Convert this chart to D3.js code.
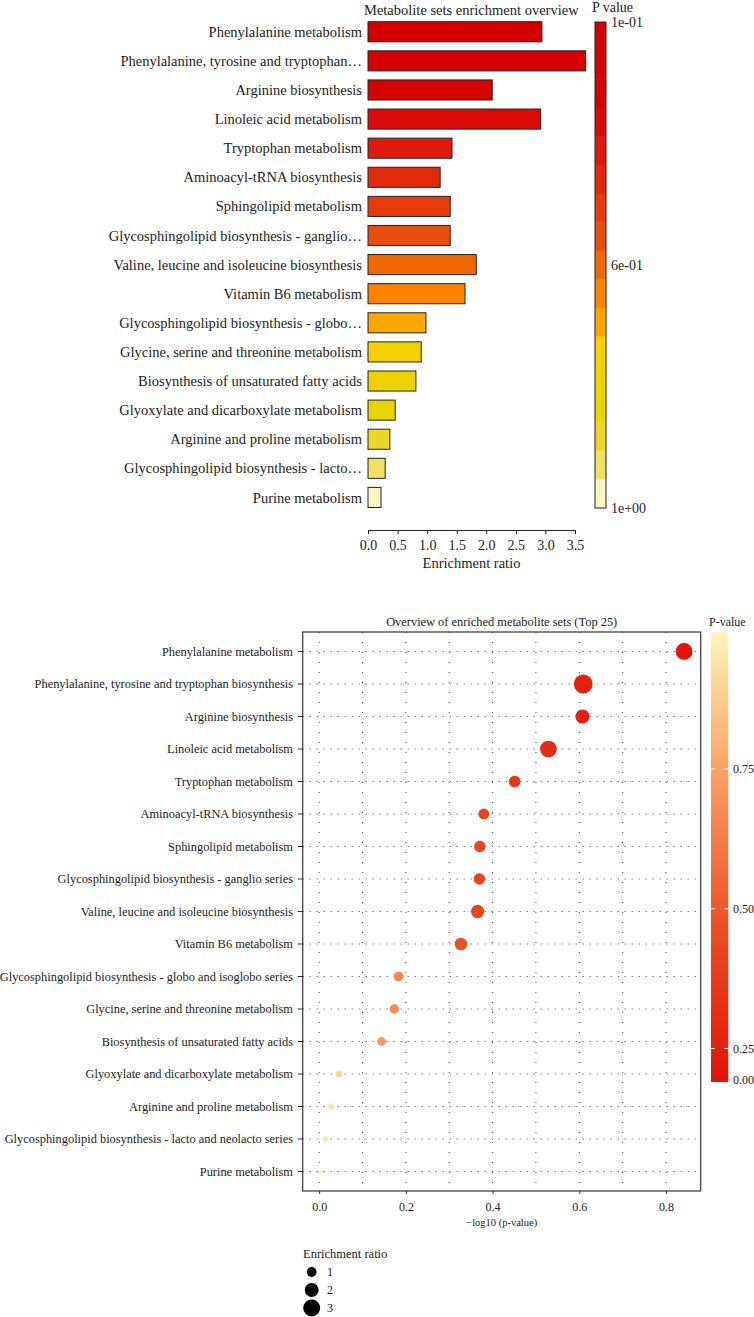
<!DOCTYPE html>
<html>
<head>
<meta charset="utf-8">
<style>
  body { margin: 0; background: #fff; }
  svg text { font-family: "Liberation Serif", "Times New Roman", serif; fill: #222; }
</style>
<script src="https://cdn.jsdelivr.net/npm/d3@7"></script>
</head>
<body>
<svg id="chart" width="754" height="1317"></svg>
<script>
// metabolite sets, top to bottom
const setNames = [
  "Phenylalanine metabolism",
  "Phenylalanine, tyrosine and tryptophan biosynthesis",
  "Arginine biosynthesis",
  "Linoleic acid metabolism",
  "Tryptophan metabolism",
  "Aminoacyl-tRNA biosynthesis",
  "Sphingolipid metabolism",
  "Glycosphingolipid biosynthesis - ganglio series",
  "Valine, leucine and isoleucine biosynthesis",
  "Vitamin B6 metabolism",
  "Glycosphingolipid biosynthesis - globo and isoglobo series",
  "Glycine, serine and threonine metabolism",
  "Biosynthesis of unsaturated fatty acids",
  "Glyoxylate and dicarboxylate metabolism",
  "Arginine and proline metabolism",
  "Glycosphingolipid biosynthesis - lacto and neolacto series",
  "Purine metabolism"
];
const shortNames = [
  "Phenylalanine metabolism",
  "Phenylalanine, tyrosine and tryptophan\u2026",
  "Arginine biosynthesis",
  "Linoleic acid metabolism",
  "Tryptophan metabolism",
  "Aminoacyl-tRNA biosynthesis",
  "Sphingolipid metabolism",
  "Glycosphingolipid biosynthesis - ganglio\u2026",
  "Valine, leucine and isoleucine biosynthesis",
  "Vitamin B6 metabolism",
  "Glycosphingolipid biosynthesis - globo\u2026",
  "Glycine, serine and threonine metabolism",
  "Biosynthesis of unsaturated fatty acids",
  "Glyoxylate and dicarboxylate metabolism",
  "Arginine and proline metabolism",
  "Glycosphingolipid biosynthesis - lacto\u2026",
  "Purine metabolism"
];
const enrichmentRatio = [2.94, 3.68, 2.10, 2.92, 1.42, 1.22, 1.39, 1.39, 1.83, 1.64, 0.98, 0.90, 0.81, 0.46, 0.37, 0.29, 0.22];
const pValue = [0.144, 0.246, 0.247, 0.296, 0.354, 0.417, 0.426, 0.427, 0.431, 0.471, 0.656, 0.671, 0.718, 0.899, 0.938, 0.968, 0.991];

const enrichTicks = [0, 0.5, 1.0, 1.5, 2.0, 2.5, 3.0, 3.5];
const pBarLabels = ["1e-01", "6e-01", "1e+00"];
const logTicks = [0, 0.2, 0.4, 0.6, 0.8];
const pLegendTicks = [0.25, 0.5, 0.75];
const ratioLegend = [1, 2, 3];

// colour steps of the top chart, one per p value above
const barPalette = ["#d40000", "#d50000", "#d60202", "#da0a06", "#de1a0a", "#e22a0c", "#e63c0e", "#ea4e0c",
                    "#f06800", "#fa8400", "#fca600", "#f4d000", "#ecd300", "#ead400", "#eed628", "#f2e060", "#fbf5c8"];

const svg = d3.select("#chart");

// ---------- top: bar chart ----------
const g1 = svg.append("g");
const x1 = d3.scaleLinear().domain([0, 3.5]).range([368, 575]);
const y1 = d3.scaleBand().domain(setNames).range([17.2, 512]).paddingInner(0.31).paddingOuter(0.155);
const barColor = d3.scaleLinear().domain(pValue).range(barPalette).clamp(true);

g1.append("text")
  .attr("x", 364).attr("y", 15)
  .attr("font-size", 14.5)
  .text("Metabolite sets enrichment overview");

g1.selectAll("rect.bar").data(setNames).join("rect")
  .attr("class", "bar")
  .attr("x", x1(0))
  .attr("y", d => y1(d))
  .attr("width", (d, i) => x1(enrichmentRatio[i]) - x1(0))
  .attr("height", y1.bandwidth())
  .attr("fill", (d, i) => barColor(pValue[i]))
  .attr("stroke", "#222")
  .attr("stroke-width", 1);

g1.selectAll("text.lab").data(setNames).join("text")
  .attr("class", "lab")
  .attr("x", 362)
  .attr("y", d => y1(d) + y1.bandwidth() / 2)
  .attr("dy", "0.35em")
  .attr("text-anchor", "end")
  .attr("font-size", 14.5)
  .text((d, i) => shortNames[i]);

const ax1 = g1.append("g")
  .attr("transform", "translate(0,530)")
  .call(d3.axisBottom(x1).tickValues(enrichTicks).tickFormat(d3.format(".1f")).tickSize(4).tickSizeOuter(0).tickPadding(6));
ax1.selectAll("text").attr("font-size", 14).style("font-family", null);
ax1.selectAll("path, line").attr("stroke", "#222");

g1.append("text")
  .attr("x", (x1(0) + x1(3.5)) / 2).attr("y", 568)
  .attr("text-anchor", "middle")
  .attr("font-size", 14.5)
  .text("Enrichment ratio");

// discrete colour bar
const cb1 = d3.scaleBand().domain(setNames).range([22, 508]);
g1.selectAll("rect.cb").data(setNames).join("rect")
  .attr("class", "cb")
  .attr("x", 595).attr("width", 11)
  .attr("y", d => cb1(d))
  .attr("height", cb1.bandwidth() + 0.5)
  .attr("fill", (d, i) => barColor(pValue[i]));
g1.append("rect")
  .attr("x", 595).attr("y", 22).attr("width", 11).attr("height", 486)
  .attr("fill", "none").attr("stroke", "#222");
const cbLab = d3.scalePoint().domain(pBarLabels).range([22, 508]);
g1.selectAll("text.cbl").data(pBarLabels).join("text")
  .attr("class", "cbl")
  .attr("x", 611).attr("y", d => cbLab(d))
  .attr("dy", "0.35em")
  .attr("font-size", 14)
  .text(d => d);
g1.append("text")
  .attr("x", 592).attr("y", 12)
  .attr("font-size", 14)
  .text("P value");

// ---------- bottom: dot plot ----------
const g2 = svg.append("g");
const x2 = d3.scaleLinear().domain([-0.038, 0.88]).range([302.7, 700.7]);
const y2 = d3.scalePoint().domain(setNames).range([632, 1191]).padding(0.6);
const rScale = d3.scaleSqrt().domain([0, 4]).range([0, 9.8]);
const dotColor = d3.scaleLinear()
  .domain([0.19, 0.45, 0.70, 0.85, 1.0])
  .range(["#e2140c", "#ea4a22", "#f7935c", "#fcc484", "#fff6bc"])
  .clamp(true);

g2.append("text")
  .attr("x", 501.7).attr("y", 626)
  .attr("text-anchor", "middle")
  .attr("font-size", 12.4)
  .text("Overview of enriched metabolite sets (Top 25)");

// dotted grid
g2.selectAll("line.vg").data(x2.ticks(10)).join("line")
  .attr("class", "vg")
  .attr("x1", d => x2(d)).attr("x2", d => x2(d))
  .attr("y1", 632).attr("y2", 1191)
  .attr("stroke", "#444").attr("stroke-width", 1)
  .attr("stroke-dasharray", "1,9");
g2.selectAll("line.hg").data(setNames).join("line")
  .attr("class", "hg")
  .attr("x1", 302.7).attr("x2", 700.7)
  .attr("y1", d => y2(d)).attr("y2", d => y2(d))
  .attr("stroke", "#444").attr("stroke-width", 1)
  .attr("stroke-dasharray", "1,6");

g2.selectAll("circle.dot").data(setNames).join("circle")
  .attr("class", "dot")
  .attr("cx", (d, i) => x2(-Math.log10(pValue[i])))
  .attr("cy", d => y2(d))
  .attr("r", (d, i) => rScale(enrichmentRatio[i]))
  .attr("fill", (d, i) => dotColor(pValue[i]));

g2.append("rect")
  .attr("x", 302.7).attr("y", 632).attr("width", 398).attr("height", 559)
  .attr("fill", "none").attr("stroke", "#333").attr("stroke-width", 1.2);

g2.selectAll("line.yt").data(setNames).join("line")
  .attr("class", "yt")
  .attr("x1", 297.7).attr("x2", 302.7)
  .attr("y1", d => y2(d)).attr("y2", d => y2(d))
  .attr("stroke", "#333");
g2.selectAll("text.ylab").data(setNames).join("text")
  .attr("class", "ylab")
  .attr("x", 293)
  .attr("y", d => y2(d))
  .attr("dy", "0.35em")
  .attr("text-anchor", "end")
  .attr("font-size", 12.4)
  .text(d => d);

const ax2 = g2.append("g")
  .attr("transform", "translate(0,1191)")
  .call(d3.axisBottom(x2).tickValues(logTicks).tickFormat(d3.format(".1f")).tickSize(3).tickPadding(8));
ax2.select(".domain").remove();
ax2.selectAll("text").attr("font-size", 12).style("font-family", null);
ax2.selectAll("line").attr("stroke", "#333");

g2.append("text")
  .attr("x", 501.7).attr("y", 1226)
  .attr("text-anchor", "middle")
  .attr("font-size", 10.5)
  .text("\u2212log10 (p-value)");

// continuous colour bar
const cbY = d3.scaleLinear().domain([0.19, 0.995]).range([1082, 632]);
const grad = svg.append("defs").append("linearGradient")
  .attr("id", "pgrad").attr("x1", 0).attr("y1", 1).attr("x2", 0).attr("y2", 0);
grad.selectAll("stop").data(d3.range(0, 1.0001, 0.05)).join("stop")
  .attr("offset", d => d)
  .attr("stop-color", d => dotColor(0.19 + d * (0.995 - 0.19)));
g2.append("rect")
  .attr("x", 711).attr("y", 632).attr("width", 17.3).attr("height", 450)
  .attr("fill", "url(#pgrad)");
g2.selectAll("line.cbt1").data(pLegendTicks).join("line")
  .attr("class", "cbt1")
  .attr("x1", 711).attr("x2", 715)
  .attr("y1", d => cbY(d)).attr("y2", d => cbY(d))
  .attr("stroke", "#fff");
g2.selectAll("line.cbt2").data(pLegendTicks).join("line")
  .attr("class", "cbt2")
  .attr("x1", 724.3).attr("x2", 728.3)
  .attr("y1", d => cbY(d)).attr("y2", d => cbY(d))
  .attr("stroke", "#fff");
g2.selectAll("text.cbl2").data(pLegendTicks).join("text")
  .attr("class", "cbl2")
  .attr("x", 733).attr("y", d => cbY(d))
  .attr("dy", "0.35em")
  .attr("font-size", 12)
  .text(d => d3.format(".2f")(d));
g2.append("text")
  .attr("x", 733).attr("y", 1082)
  .attr("dy", "0.2em")
  .attr("font-size", 12)
  .text("0.00");
g2.append("text")
  .attr("x", 709).attr("y", 626)
  .attr("font-size", 12)
  .text("P-value");

// size legend
g2.append("text")
  .attr("x", 303).attr("y", 1258)
  .attr("font-size", 12.5)
  .text("Enrichment ratio");
const ly = d3.scalePoint().domain(ratioLegend).range([1272, 1308]);
g2.selectAll("circle.leg").data(ratioLegend).join("circle")
  .attr("class", "leg")
  .attr("cx", 311.7).attr("cy", d => ly(d))
  .attr("r", d => rScale(d))
  .attr("fill", "#000");
g2.selectAll("text.legl").data(ratioLegend).join("text")
  .attr("class", "legl")
  .attr("x", 327).attr("y", d => ly(d))
  .attr("dy", "0.35em")
  .attr("font-size", 12)
  .text(d => d);
</script>
</body>
</html>
